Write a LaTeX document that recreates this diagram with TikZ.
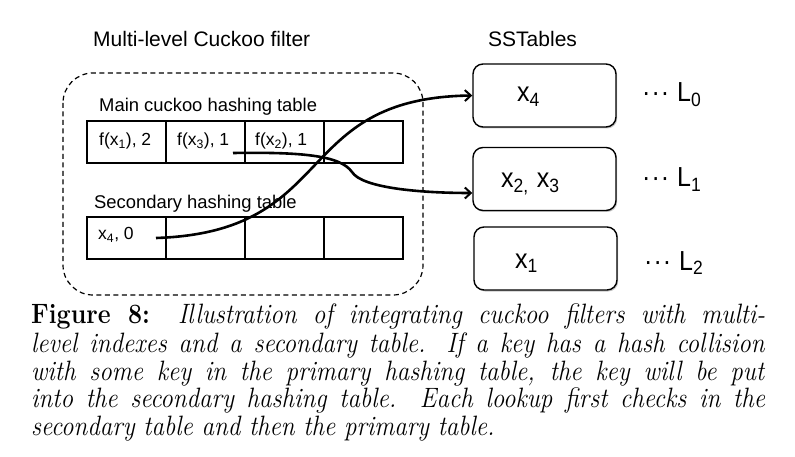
\documentclass[tikz,border=0pt]{standalone}
\usepackage{fontspec}
\newfontfamily\arial{Liberation Sans}
\usetikzlibrary{arrows.meta,shadows}
\newcommand\sdots{\textperiodcentered\kern1pt\textperiodcentered\kern1pt\textperiodcentered}
\newcommand\vstretch[2]{\scalebox{1}[#1]{#2}}
\begin{document}
\begin{tikzpicture}[x=1pt,y=-1pt,
  cell/.style={draw,line width=1.8pt,minimum width=79pt,minimum height=42pt,inner sep=0pt},
  sst/.style={draw,line width=1.4pt,rounded corners=10pt,minimum width=143pt,minimum height=63pt,inner sep=0pt,fill=white,
     drop shadow={shadow xshift=1.2pt,shadow yshift=-1.5pt,opacity=0.45}},
  lab/.style={anchor=base west,inner sep=0pt,font=\arial\fontsize{18.4}{22}\selectfont},
  ttl/.style={anchor=base west,inner sep=0pt,font=\arial\fontsize{21}{25}\selectfont},
  ctext/.style={anchor=base west,inner sep=0pt,font=\arial\fontsize{17.5}{21}\selectfont},
  big/.style={anchor=base west,inner sep=0pt,font=\arial\fontsize{25}{30}\selectfont},
  capline/.style={anchor=base west,inner sep=0pt,font=\fontsize{25}{28}\selectfont},
  conn/.style={line width=2.6pt,-{Straight Barb[length=6pt,width=11pt,line width=2pt]}}]
\useasboundingbox (0,0) rectangle (795,457);
% titles
\node[ttl] (t1) at (93,47) {Multi-level Cuckoo filter};
\node[ttl] (t2) at (488,47) {SSTables};
% dashed container
\draw[line width=1.2pt,dash pattern=on 5pt off 3.5pt,rounded corners=30pt] (63,73) rectangle (423,295);
\node[lab] (mainlab) at (99,112) {Main cuckoo hashing table};
\node[lab] (seclab) at (94,208) {Secondary hashing table};
% main table
\node[cell] (m1) at (126.5,142) {};
\node[cell] (m2) at (205.5,142) {};
\node[cell] (m3) at (284.5,142) {};
\node[cell] (m4) at (363.5,142) {};
\node[ctext] (mt1) at (99,146) {f(x\textsubscript{1}), 2};
\node[ctext] (mt2) at (177,146) {f(x\textsubscript{3}), 1};
\node[ctext] (mt3) at (255,146) {f(x\textsubscript{2}), 1};
% secondary table
\node[cell] (s1) at (126.5,238) {};
\node[cell] (s2) at (205.5,238) {};
\node[cell] (s3) at (284.5,238) {};
\node[cell] (s4) at (363.5,238) {};
\node[ctext] (st1) at (98,240) {x\textsubscript{4}, 0};
% SSTables
\node[sst] (l0) at (544.5,95.5) {};
\node[sst] (l1) at (544.5,179) {};
\node[sst] (l2) at (545.5,258.5) {};
\node[big] (x4) at (517,102) {\vstretch{1.1}{x\textsubscript{4}}};
\node[big] (x23) at (501,188) {\vstretch{1.1}{x\textsubscript{2,}\hspace{8pt}x\textsubscript{3}}};
\node[big] (x1) at (515,268) {\vstretch{1.1}{x\textsubscript{1}}};
\node[big] (d0) at (642,102) {\vstretch{1.1}{\sdots\hspace{8pt}L\textsubscript{0}}};
\node[big] (d1) at (642,187) {\vstretch{1.1}{\sdots\hspace{8pt}L\textsubscript{1}}};
\node[big] (d2) at (644,270) {\vstretch{1.1}{\sdots\hspace{8pt}L\textsubscript{2}}};
% connectors
\coordinate (c1) at (156,238);
\coordinate (c2) at (233,153);
\draw[conn] (c1) .. controls (340,232) and (290,98) .. (l0.west);
\draw[conn] (c2) .. controls (300,152) and (340,155) .. (352,172)
   .. controls (362,188) and (420,193) .. ([yshift=-14pt]l1.west);
% caption
\node[capline] (cap1) at (31,323) {\vstretch{1.12}{\makebox[734pt][s]{\textbf{Figure 8:}\ \ \textit{Illustration of integrating cuckoo filters with multi-}}}};
\node[capline] (cap2) at (31,352) {\vstretch{1.12}{\makebox[734pt][s]{\textit{level indexes and a secondary table. If a key has a hash collision}}}};
\node[capline] (cap3) at (31,380) {\vstretch{1.12}{\makebox[734pt][s]{\textit{with some key in the primary hashing table, the key will be put}}}};
\node[capline] (cap4) at (31,407) {\vstretch{1.12}{\makebox[734pt][s]{\textit{into the secondary hashing table. Each lookup first checks in the}}}};
\node[capline] (cap5) at (31,435) {\vstretch{1.12}{\textit{secondary table and then the primary table.}}};
\end{tikzpicture}
\end{document}
